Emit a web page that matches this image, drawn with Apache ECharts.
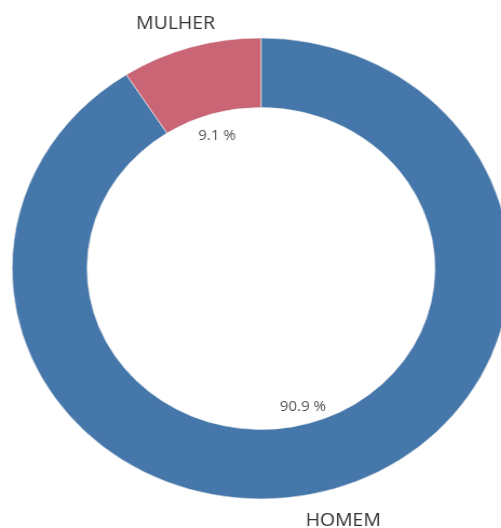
<!DOCTYPE html>
<html>
<head>
<meta charset="utf-8">
<script src="https://cdn.jsdelivr.net/npm/echarts@6/dist/echarts.min.js"></script>
<style>
  html, body { margin: 0; padding: 0; background: #fff; overflow: hidden; }
  /* the reference is slightly stretched horizontally */
  #wrap { width: 501px; height: 528px; overflow: hidden; }
  #chart { width: 464px; height: 528px; transform: scaleX(1.08); transform-origin: 0 0; }
</style>
</head>
<body>
<div id="wrap"><div id="chart"></div></div>
<script>
const categories = ["HOMEM", "MULHER"];
const values = [90.9, 9.1];
const colors = ["#4677aa", "#c96574"];

const center = [241.7, 268.5];
const font = "Open Sans";

const pieData = categories.map((name, i) => ({
  name: name,
  value: values[i],
  itemStyle: { color: colors[i] },
}));

// transparent copy of the pie, only used to place labels at a given radius
function labelRing(radius, label, offsets) {
  return {
    type: "pie",
    silent: true,
    clockwise: true,
    startAngle: 90,
    center: center,
    radius: radius,
    percentPrecision: 1,
    animation: false,
    itemStyle: { color: "rgba(0,0,0,0)" },
    label: label,
    labelLine: { show: false },
    data: categories.map((name, i) => ({
      name: name,
      value: values[i],
      label: offsets ? { offset: offsets[i] } : undefined,
    })),
  };
}

const chart = echarts.init(document.getElementById("chart"));
chart.setOption({
  animation: false,
  series: [
    {
      type: "pie",
      clockwise: true,
      startAngle: 90,
      center: center,
      radius: [161, 230.5],
      itemStyle: { borderColor: "#f2f2f2", borderWidth: 0.6 },
      label: { show: false },
      labelLine: { show: false },
      emphasis: { disabled: true },
      data: pieData,
    },
    labelRing([123, 153], {
      show: true,
      position: "inside",
      formatter: "{d} %",
      color: "#555",
      fontFamily: font,
      fontSize: 14,
      offset: [-1, 3],
    }),
    labelRing([246, 266], {
      show: true,
      position: "inside",
      formatter: "{b}",
      color: "#333",
      fontFamily: font,
      fontSize: 18,
    }, [[3, 4], [-6, 4]]),
  ],
});
</script>
</body>
</html>
